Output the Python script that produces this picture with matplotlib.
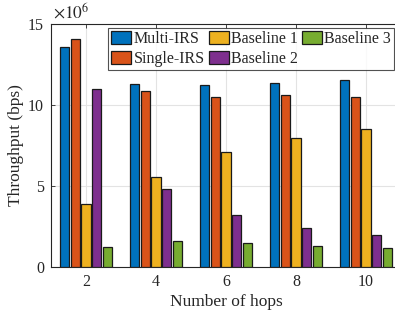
import numpy as np, matplotlib
matplotlib.use('Agg')
import matplotlib.pyplot as plt

# data (throughput, x1e6 bps)
hops = [2, 4, 6, 8, 10]
multi_irs  = [13.56, 11.28, 11.23, 11.36, 11.56]
single_irs = [14.07, 10.86, 10.47, 10.60, 10.47]
baseline1  = [3.90, 5.57, 7.08, 7.94, 8.54]
baseline2  = [10.97, 4.83, 3.19, 2.39, 1.96]
baseline3  = [1.25, 1.60, 1.46, 1.32, 1.17]

series = [('Multi-IRS', multi_irs, '#0072BD'),
          ('Single-IRS', single_irs, '#D95319'),
          ('Baseline 1', baseline1, '#EDB120'),
          ('Baseline 2', baseline2, '#7E2F8E'),
          ('Baseline 3', baseline3, '#77AC30')]

TXT = '#262626'
plt.rcParams.update({'font.family': 'Liberation Serif', 'mathtext.fontset': 'stix',
                     'text.color': TXT, 'axes.labelcolor': TXT,
                     'xtick.color': TXT, 'ytick.color': TXT, 'axes.edgecolor': TXT})

fig = plt.figure(figsize=(3.95, 3.18), dpi=100)
ax = fig.add_axes([51/395, 51/318, 350/395, 243/318])

x = np.array(hops, dtype=float)
step, w = 0.307, 0.26
for i, (name, vals, col) in enumerate(series):
    ax.bar(x + (i - 2) * step, np.array(vals) * 1e6, width=w, color=col,
           edgecolor='#1a1a1a', linewidth=0.9, label=name, zorder=3)

ax.set_xlim(1, 11)
ax.set_ylim(0, 15e6)
ax.set_xticks(hops)
ax.set_yticks([0, 5e6, 10e6, 15e6])
ax.set_yticklabels(['0', '5', '10', '15'])
ax.tick_params(direction='in', top=True, right=True, labelsize=11.5, length=3, width=0.6, pad=5)
ax.grid(True, color='#e3e3e3', lw=0.8, zorder=0)
for s in ax.spines.values():
    s.set_linewidth(0.8)
ax.text(0.005, 1.008, r'$\times10^6$', transform=ax.transAxes, fontsize=12.5,
        ha='left', va='bottom', color=TXT)

ax.set_xlabel('Number of hops', fontsize=12.5, labelpad=3)
ax.set_ylabel('Throughput (bps)', fontsize=12.5, labelpad=3)

leg = ax.legend(ncol=3, loc='upper left', bbox_to_anchor=(57/350, 1 - 4/243),
                fontsize=11.5, frameon=True, fancybox=False, edgecolor=TXT,
                handlelength=1.25, handleheight=0.85, handletextpad=0.15,
                columnspacing=0.25, labelspacing=0.25, borderpad=0.2,
                borderaxespad=0)
leg.get_frame().set_linewidth(0.8)

fig.savefig('out.png', dpi=100)
